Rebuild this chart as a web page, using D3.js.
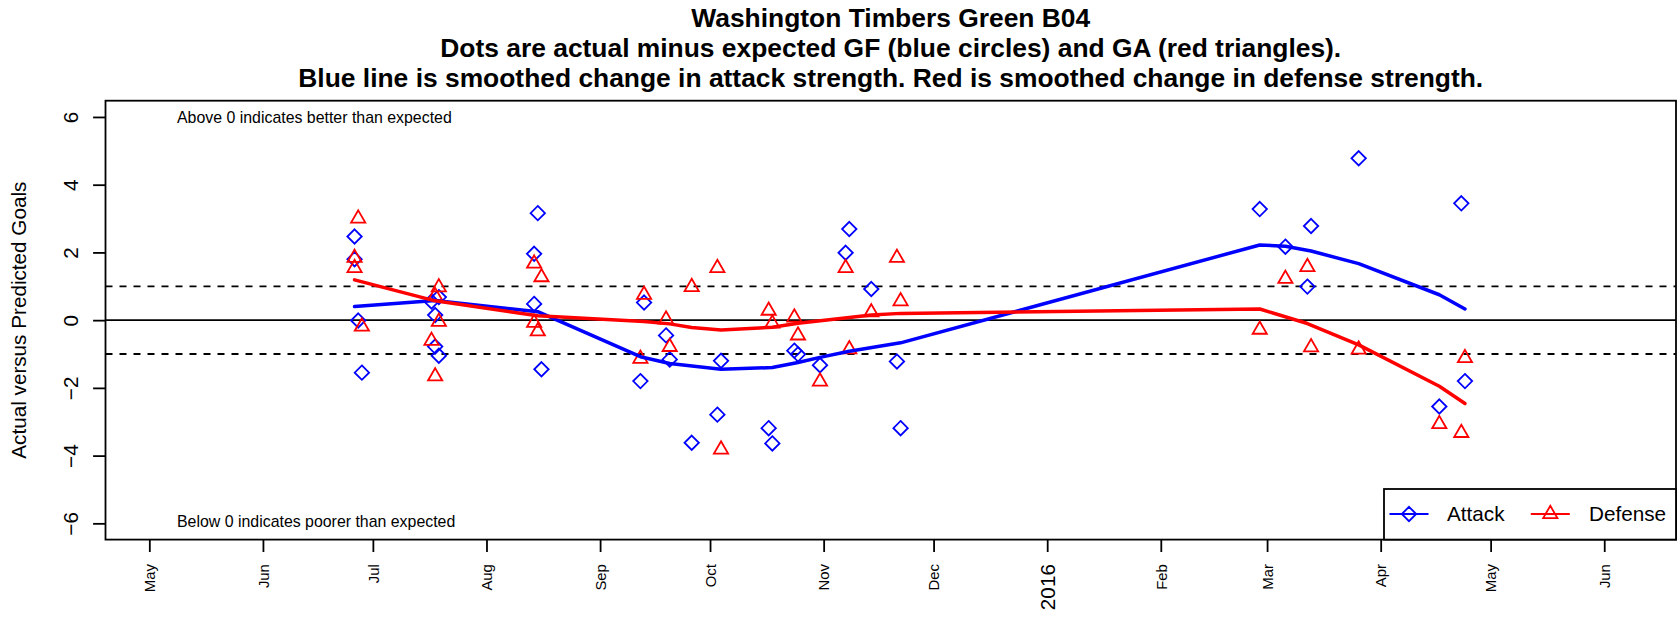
<!DOCTYPE html>
<html>
<head>
<meta charset="utf-8">
<script src="https://cdn.jsdelivr.net/npm/d3@7"></script>
<style>
  html, body { margin: 0; padding: 0; background: #fff; }
  svg { display: block; font-family: "Liberation Sans", Arial, Helvetica, sans-serif; }
</style>
</head>
<body>
<svg id="chart" width="1679" height="618"></svg>
<script>
// ---------- DATA ----------
const titleLines = [
  "Washington Timbers Green B04",
  "Dots are actual minus expected GF (blue circles) and GA (red triangles).",
  "Blue line is smoothed change in attack strength. Red is smoothed change in defense strength."
];
const yAxisLabel = "Actual versus Predicted Goals";
const noteAbove = "Above 0 indicates better than expected";
const noteBelow = "Below 0 indicates poorer than expected";
const legendLabels = ["Attack", "Defense"];

const yTicks = [-6, -4, -2, 0, 2, 4, 6];
const xTickDates = ["2015-05-01","2015-06-01","2015-07-01","2015-08-01","2015-09-01","2015-10-01",
  "2015-11-01","2015-12-01","2016-01-01","2016-02-01","2016-03-01","2016-04-01","2016-05-01","2016-06-01"];
const xTickLabels = ["May","Jun","Jul","Aug","Sep","Oct","Nov","Dec","2016","Feb","Mar","Apr","May","Jun"];

const attackDates = [
  "2015-06-26","2015-06-26","2015-06-27","2015-06-28",
  "2015-07-17","2015-07-18","2015-07-18","2015-07-19","2015-07-19",
  "2015-08-14","2015-08-14","2015-08-15","2015-08-16",
  "2015-09-12","2015-09-13","2015-09-19","2015-09-20",
  "2015-09-26","2015-10-03","2015-10-04",
  "2015-10-17","2015-10-18","2015-10-24","2015-10-25",
  "2015-10-31","2015-11-07","2015-11-08","2015-11-14","2015-11-21","2015-11-22",
  "2016-02-28","2016-03-06","2016-03-12","2016-03-13","2016-03-26","2016-04-17","2016-04-23","2016-04-24"
];
const attackValues = [
  2.47, 1.80, -0.01, -1.55,
  0.55, 0.15, -0.78, 0.68, -1.05,
  1.96, 0.48, 3.16, -1.45,
  -1.80, 0.52, -0.45, -1.16,
  -3.62, -2.79, -1.20,
  -3.19, -3.64, -0.90, -1.01,
  -1.33, 1.99, 2.69, 0.92, -1.22, -3.19,
  3.28, 2.17, 0.99, 2.78, 4.78, -2.55, 3.45, -1.80
];

const defenseDates = [
  "2015-06-26","2015-06-26","2015-06-27","2015-06-28",
  "2015-07-17","2015-07-18","2015-07-18","2015-07-19","2015-07-19",
  "2015-08-14","2015-08-14","2015-08-15","2015-08-16",
  "2015-09-12","2015-09-13","2015-09-19","2015-09-20",
  "2015-09-26","2015-10-03","2015-10-04",
  "2015-10-17","2015-10-18","2015-10-24","2015-10-25",
  "2015-10-31","2015-11-07","2015-11-08","2015-11-14","2015-11-21","2015-11-22",
  "2016-02-28","2016-03-06","2016-03-12","2016-03-13","2016-03-26","2016-04-17","2016-04-23","2016-04-24"
];
const defenseValues = [
  1.84, 1.54, 3.00, -0.19,
  -0.61, -1.66, 0.71, 0.97, -0.05,
  1.67, -0.08, -0.33, 1.27,
  -1.14, 0.75, 0.02, -0.79,
  0.98, 1.54, -3.82,
  0.28, -0.10, 0.08, -0.45,
  -1.81, 1.54, -0.86, 0.23, 1.84, 0.56,
  -0.28, 1.22, 1.57, -0.80, -0.87, -3.07, -3.33, -1.12
];

const attackSmoothDates = ["2015-06-26","2015-07-18","2015-08-15","2015-09-12","2015-09-20","2015-10-04",
  "2015-10-18","2015-10-25","2015-10-31","2015-11-08","2015-11-22","2016-02-28","2016-03-06","2016-03-13",
  "2016-03-26","2016-04-17","2016-04-24"];
const attackSmoothValues = [0.40, 0.58, 0.25, -1.08, -1.28, -1.45, -1.40, -1.25, -1.10, -0.92, -0.67,
  2.22, 2.18, 2.04, 1.67, 0.75, 0.33];

const defenseSmoothDates = ["2015-06-26","2015-07-18","2015-08-15","2015-09-13","2015-09-20","2015-09-26",
  "2015-10-04","2015-10-18","2015-10-25","2015-11-08","2015-11-14","2015-11-22","2016-02-28","2016-03-12",
  "2016-03-26","2016-04-17","2016-04-24"];
const defenseSmoothValues = [1.19, 0.57, 0.13, -0.04, -0.11, -0.22, -0.29, -0.21, -0.09, 0.08, 0.15, 0.20,
  0.33, -0.10, -0.73, -1.95, -2.46];

const refLines = [1, -1];

// ---------- LAYOUT ----------
const W = 1679, H = 618;
const plot = { left: 105.5, right: 1676, top: 100.7, bottom: 539.6 };
const baseFont = 20.7;
const BLUE = "#0000FF", RED = "#FF0000";

const parse = d3.utcParse("%Y-%m-%d");
const x = d3.scaleUtc()
  .domain([new Date(Date.UTC(2015, 3, 19, 1)), new Date(Date.UTC(2016, 5, 20, 14))])
  .range([plot.left, plot.right]);
const y = d3.scaleLinear().domain([-6.48, 6.48]).range([plot.bottom, plot.top]);

const svg = d3.select("#chart");
svg.append("rect").attr("width", W).attr("height", H).attr("fill", "#fff");

// Title
const cx = (plot.left + plot.right) / 2;
svg.append("g").selectAll("text").data(titleLines).join("text")
  .attr("x", cx).attr("y", (d, i) => 27 + i * 30)
  .attr("text-anchor", "middle").attr("font-weight", "bold").attr("font-size", 26.4)
  .attr("fill", "#000").text(d => d);

// Reference lines
const gLines = svg.append("g");
gLines.append("line").attr("x1", plot.left).attr("x2", plot.right)
  .attr("y1", y(0)).attr("y2", y(0)).attr("stroke", "#000").attr("stroke-width", 1.8);
gLines.selectAll("line.ref").data(refLines).join("line").attr("class", "ref")
  .attr("x1", plot.left).attr("x2", plot.right)
  .attr("y1", d => y(d)).attr("y2", d => y(d))
  .attr("stroke", "#000").attr("stroke-width", 1.8).attr("stroke-dasharray", "7,7");

// Markers
function diamondPath(r) { return `M0,${-r}L${r},0L0,${r}L${-r},0Z`; }
function trianglePath(r) {
  const xc = r * Math.sqrt(3) / 2, yc = r / 2;
  return `M0,${-r}L${xc},${yc}L${-xc},${yc}Z`;
}
const DR = 7.2, TR = 8.2;

const attackPts = attackDates.map((d, i) => ({ date: parse(d), v: attackValues[i] }));
const defensePts = defenseDates.map((d, i) => ({ date: parse(d), v: defenseValues[i] }));

svg.append("g").selectAll("path").data(attackPts).join("path")
  .attr("d", diamondPath(DR))
  .attr("transform", d => `translate(${x(d.date)},${y(d.v)})`)
  .attr("fill", "none").attr("stroke", BLUE).attr("stroke-width", 1.8);

svg.append("g").selectAll("path").data(defensePts).join("path")
  .attr("d", trianglePath(TR))
  .attr("transform", d => `translate(${x(d.date)},${y(d.v)})`)
  .attr("fill", "none").attr("stroke", RED).attr("stroke-width", 1.8);

// Smoothed lines
const line = d3.line().x(d => x(d.date)).y(d => y(d.v));
const attackSmooth = attackSmoothDates.map((d, i) => ({ date: parse(d), v: attackSmoothValues[i] }));
const defenseSmooth = defenseSmoothDates.map((d, i) => ({ date: parse(d), v: defenseSmoothValues[i] }));
svg.append("path").datum(attackSmooth).attr("d", line)
  .attr("fill", "none").attr("stroke", BLUE).attr("stroke-width", 3.5)
  .attr("stroke-linejoin", "round").attr("stroke-linecap", "round");
svg.append("path").datum(defenseSmooth).attr("d", line)
  .attr("fill", "none").attr("stroke", RED).attr("stroke-width", 3.5)
  .attr("stroke-linejoin", "round").attr("stroke-linecap", "round");

// Notes
svg.append("text").attr("x", 177).attr("y", y(6)).attr("dy", "0.35em")
  .attr("font-size", 15.9).attr("fill", "#000").text(noteAbove);
svg.append("text").attr("x", 177).attr("y", y(-6)).attr("dy", "0.2em")
  .attr("font-size", 15.9).attr("fill", "#000").text(noteBelow);

// Axes
const tickLen = 12.4;
const xAxis = d3.axisBottom(x)
  .tickValues(xTickDates.map(parse))
  .tickSize(tickLen)
  .tickFormat((d, i) => xTickLabels[i]);
const gx = svg.append("g").attr("transform", `translate(0,${plot.bottom})`).call(xAxis);
gx.select(".domain").remove();
gx.selectAll(".tick line").attr("stroke", "#000").attr("stroke-width", 1.8);
gx.selectAll(".tick text")
  .attr("transform", "rotate(-90)")
  .attr("x", -24.5).attr("y", 0).attr("dy", "0.35em")
  .attr("text-anchor", "end")
  .attr("fill", "#000")
  .attr("font-family", "Liberation Sans, Arial, sans-serif")
  .attr("font-size", (d, i) => xTickLabels[i] === "2016" ? baseFont : 14.9);

const yAxis = d3.axisLeft(y).tickValues(yTicks).tickSize(tickLen).tickFormat(d3.format("d"));
const gy = svg.append("g").attr("transform", `translate(${plot.left},0)`).call(yAxis);
gy.select(".domain").remove();
gy.selectAll(".tick line").attr("stroke", "#000").attr("stroke-width", 1.8);
gy.selectAll(".tick text")
  .attr("transform", "rotate(-90)")
  .attr("x", 0).attr("y", -28).attr("dy", 0)
  .attr("text-anchor", "middle")
  .attr("fill", "#000")
  .attr("font-family", "Liberation Sans, Arial, sans-serif")
  .attr("font-size", baseFont);

// Y axis label
svg.append("text")
  .attr("transform", `translate(26,${(plot.top + plot.bottom) / 2}) rotate(-90)`)
  .attr("text-anchor", "middle").attr("font-size", baseFont).attr("fill", "#000")
  .text(yAxisLabel);

// Plot box
svg.append("rect").attr("x", plot.left).attr("y", plot.top)
  .attr("width", plot.right - plot.left).attr("height", plot.bottom - plot.top)
  .attr("fill", "none").attr("stroke", "#000").attr("stroke-width", 1.8);

// Legend
const lg = svg.append("g");
const legTop = 489, legLeft = 1384, legY = 514;
lg.append("rect").attr("x", legLeft).attr("y", legTop)
  .attr("width", plot.right - legLeft).attr("height", plot.bottom - legTop)
  .attr("fill", "#fff").attr("stroke", "#000").attr("stroke-width", 1.8);
const legItems = [
  { label: legendLabels[0], color: BLUE, shape: diamondPath(DR), x0: 1389.5, text: 1447 },
  { label: legendLabels[1], color: RED, shape: trianglePath(TR), x0: 1530.8, text: 1589 }
];
const li = lg.selectAll("g.item").data(legItems).join("g").attr("class", "item");
li.append("line").attr("x1", d => d.x0).attr("x2", d => d.x0 + 39)
  .attr("y1", legY).attr("y2", legY).attr("stroke", d => d.color).attr("stroke-width", 1.8);
li.append("path").attr("d", d => d.shape)
  .attr("transform", d => `translate(${d.x0 + 19.5},${legY})`)
  .attr("fill", "none").attr("stroke", d => d.color).attr("stroke-width", 1.8);
li.append("text").attr("x", d => d.text).attr("y", legY).attr("dy", "0.35em")
  .attr("font-size", baseFont).attr("fill", "#000").text(d => d.label);
</script>
</body>
</html>
